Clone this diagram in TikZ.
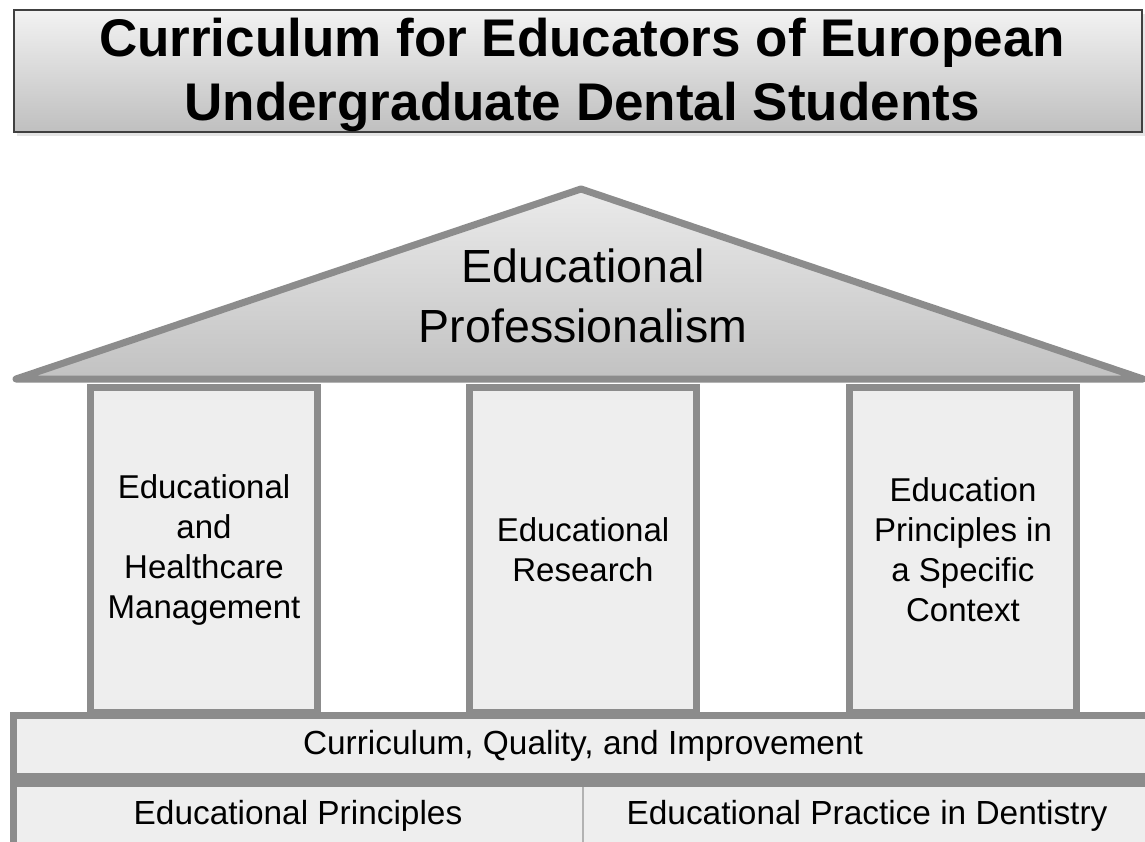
\documentclass[tikz,border=0pt]{standalone}
\usepackage{fontspec}
\setmainfont{Liberation Sans}
\definecolor{edge}{HTML}{8C8C8C}
\definecolor{boxfill}{HTML}{EEEEEE}
\tikzset{
  pillar/.style={draw=edge, line width=7pt, fill=boxfill},
  pillartext/.style={align=center, font=\fontsize{33}{40}\selectfont, text=black},
  basetext/.style={font=\fontsize{33.4}{40}\selectfont, text=black},
}
\begin{document}
\begin{tikzpicture}[x=1pt,y=-1pt]
\useasboundingbox (0,0) rectangle (1145,842);
\clip (0,0) rectangle (1145,842);
% title
\fill[black!10] (17,14) rectangle (1146,136);
\draw[draw=black!75, line width=1.3pt, top color=black!5, bottom color=black!25] (14,10) rectangle (1142,132);
\node[align=center, font=\bfseries\fontsize{53}{64}\selectfont] (title) at (582,75) {Curriculum for Educators of European\\Undergraduate Dental Students};
% roof
\draw[draw=edge, line width=7pt, line join=round, top color=black!8, bottom color=black!24]
  (16,379) -- (581,189) -- (1143,379) -- cycle;
\node[align=center, font=\fontsize{46.5}{60}\selectfont] (roof) at (583,296) {Educational\\Professionalism};
% pillars
\draw[pillar] (90.5,387) rectangle (317.5,712);
\draw[pillar] (469.5,387) rectangle (696.5,712);
\draw[pillar] (849.5,387) rectangle (1076.5,712);
\node[pillartext] (p1) at (204,550) {Educational\\and\\Healthcare\\Management};
\node[pillartext] (p2) at (583,550) {Educational\\Research};
\node[pillartext] (p3) at (963,550) {Education\\Principles in\\a Specific\\Context};
% base
\draw[pillar] (13.5,715.5) rectangle (1155,776.5);
\draw[pillar] (13.5,783.5) rectangle (1155,860);
\draw[draw=black!30, line width=1.5pt] (583,787) -- (583,842);
\node[basetext] (b1) at (583,746) {Curriculum, Quality, and Improvement};
\node[basetext] (b2) at (298,816) {Educational Principles};
\node[basetext] (b3) at (867,816) {Educational Practice in Dentistry};
\end{tikzpicture}
\end{document}
